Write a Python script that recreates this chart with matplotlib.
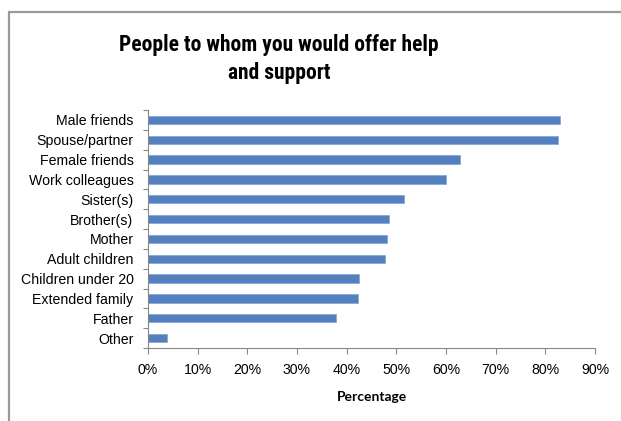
import matplotlib
matplotlib.use("Agg")
import matplotlib.pyplot as plt
from matplotlib.patches import Rectangle
from matplotlib.ticker import FixedLocator, PercentFormatter
import numpy as np

categories = ["Male friends", "Spouse/partner", "Female friends", "Work colleagues",
              "Sister(s)", "Brother(s)", "Mother", "Adult children",
              "Children under 20", "Extended family", "Father", "Other"]
values = [83.0, 82.5, 62.9, 59.9, 51.6, 48.6, 48.2, 47.8, 42.5, 42.3, 37.8, 3.9]
xticks = [0, 10, 20, 30, 40, 50, 60, 70, 80, 90]

W, H = 621, 421
fig = plt.figure(figsize=(W / 100, H / 100), dpi=100)
fig.patch.set_facecolor("white")

# outer frame
fig.patches.append(Rectangle((9 / W, 1 - 440 / H), (650 - 9) / W, (440 - 12) / H,
                             transform=fig.transFigure, fill=False,
                             edgecolor="#9a9a9a", linewidth=1.6))

ax = fig.add_axes([148 / W, 1 - 348 / H, 447 / W, 238 / H])
y = np.arange(len(categories))
ax.barh(y, values, height=0.42, color="#5580C0", edgecolor="#7a9bd0", linewidth=0.4)
ax.set_ylim(len(categories) - 0.5, -0.5)
ax.set_xlim(0, 90)

ax.set_yticks(y)
ax.set_yticklabels(categories, fontsize=10.2, family=["Liberation Sans", "DejaVu Sans"])
ax.yaxis.set_minor_locator(FixedLocator(np.arange(len(categories) + 1) - 0.5))
ax.tick_params(axis="y", which="major", length=0, pad=10.5)
ax.tick_params(axis="y", which="minor", length=3.5, color="#868686", width=0.8)

ax.set_xticks(xticks)
ax.xaxis.set_major_formatter(PercentFormatter(decimals=0))
for lab in ax.get_xticklabels():
    lab.set_family(["Liberation Sans", "DejaVu Sans"])
ax.tick_params(axis="x", which="major", length=4, color="#868686", width=0.8,
               labelsize=10.2, pad=7)

for s in ["top", "right"]:
    ax.spines[s].set_visible(False)
for s in ["left", "bottom"]:
    ax.spines[s].set_color("#868686")
    ax.spines[s].set_linewidth(0.8)

ax.set_xlabel("Percentage", fontsize=10, fontweight="bold",
              family=["Lato", "DejaVu Sans"], labelpad=10)

fig.text(279 / W, 1 - 59 / H,
         "People to whom you would offer help\nand support",
         ha="center", va="center", fontsize=15.5, fontweight="bold",
         family=["Roboto Condensed", "Liberation Sans", "DejaVu Sans"],
         linespacing=1.3)

fig.savefig("out.png", dpi=100)
